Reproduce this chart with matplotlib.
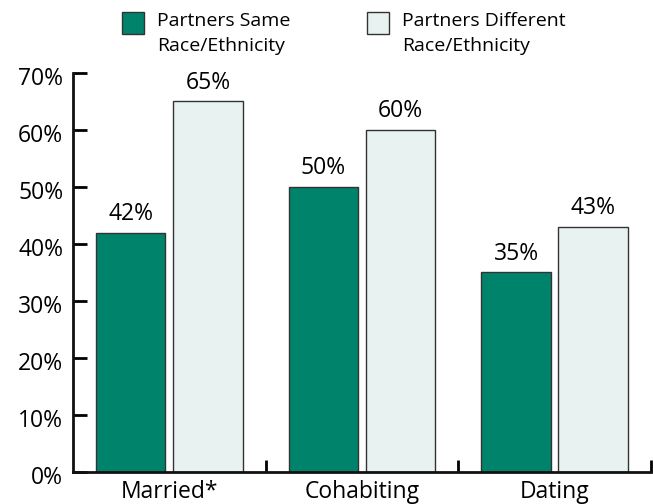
import matplotlib.pyplot as plt
from matplotlib.patches import Rectangle
from matplotlib.ticker import FixedLocator, PercentFormatter
from matplotlib.transforms import ScaledTranslation

plt.rcParams["font.family"] = ["Open Sans", "DejaVu Sans"]

# Share of couples by relationship type and partner race/ethnicity
categories = ["Married*", "Cohabiting", "Dating"]
same_race = [42, 50, 35]
different_race = [65, 60, 43]
series_labels = ["Partners Same\nRace/Ethnicity", "Partners Different\nRace/Ethnicity"]
series_colors = ["#00836B", "#E8F2F1"]

fig = plt.figure(figsize=(6.53, 5.04), dpi=100)
ax = fig.add_axes([0.1118, 0.0635, 0.885, 0.7917])

x = range(len(categories))
width = 0.36
offset = 0.2
for vals, sign, color in [(same_race, -1, series_colors[0]), (different_race, 1, series_colors[1])]:
    bars = ax.bar([i + sign * offset for i in x], vals, width=width, color=color,
                  edgecolor="#333333", linewidth=1.0)
    for b, v in zip(bars, vals):
        ax.annotate(f"{v}%", (b.get_x() + b.get_width() / 2, v), xytext=(0, 5),
                    textcoords="offset points", ha="center", va="bottom", fontsize=16.5)

ax.set_xlim(-0.5, 2.5)
ax.set_ylim(0, 70)
ax.set_yticks(range(0, 71, 10))
ax.yaxis.set_major_formatter(PercentFormatter(decimals=0))
ax.set_xticks(list(x))
ax.set_xticklabels(categories)
ax.xaxis.set_minor_locator(FixedLocator([0.5, 1.5, 2.5]))

for side in ["top", "right"]:
    ax.spines[side].set_visible(False)
for side in ["left", "bottom"]:
    ax.spines[side].set_linewidth(2)
    ax.spines[side].set_color("#111111")

ax.tick_params(axis="y", direction="in", length=10, width=2, labelsize=16.5, pad=7)
ax.tick_params(axis="x", which="major", length=0, labelsize=16.5, pad=6)
ax.tick_params(axis="x", which="minor", direction="in", length=9, width=2)

# nudge the percent labels a little below their ticks
shift = ScaledTranslation(0, -3 / 100, fig.dpi_scale_trans)
for lbl in ax.get_yticklabels():
    lbl.set_transform(lbl.get_transform() + shift)

# Legend drawn in figure pixels above the plot
legend_x = [122, 367]
for lx, label, color in zip(legend_x, series_labels, series_colors):
    fig.patches.append(Rectangle((lx / 653, 1 - 34 / 504), 22 / 653, 22 / 504,
                                 transform=fig.transFigure, facecolor=color,
                                 edgecolor="#333333", linewidth=1.0))
    fig.text((lx + 35) / 653, 1 - 12 / 504, label, ha="left", va="top",
             fontsize=14, linespacing=1.5)

fig.savefig("out.png", dpi=100)
